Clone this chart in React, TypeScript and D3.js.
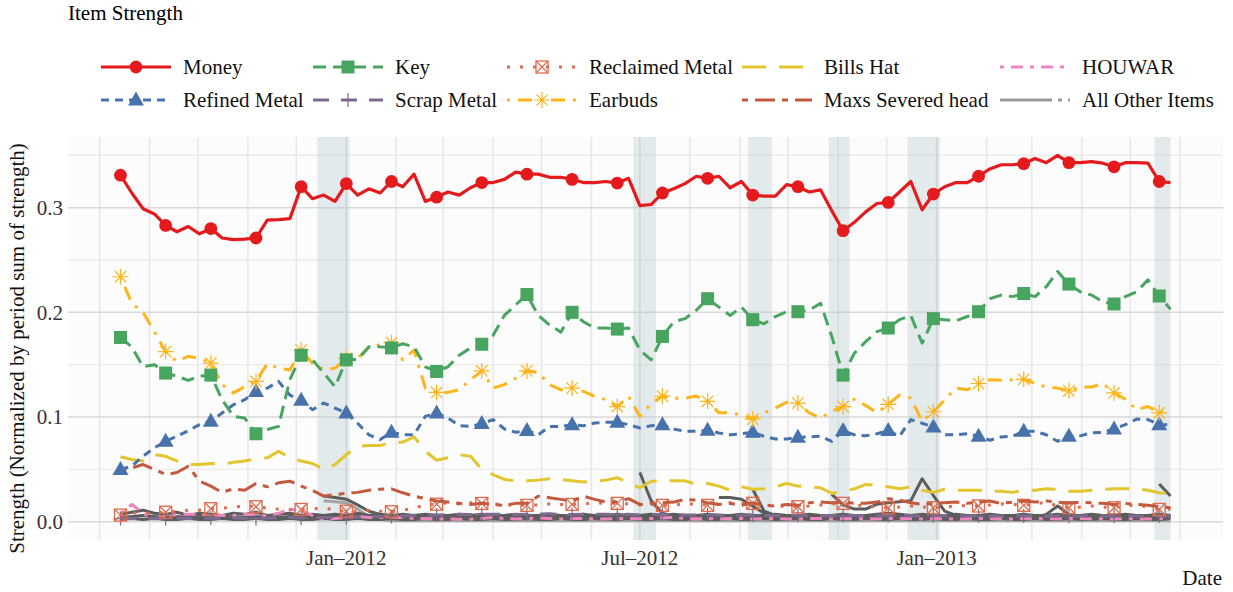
import React from "react";
import * as d3 from "d3";

// weekly observations, first week starts 14 Aug 2011
const START = new Date(2011, 7, 14);

const money = [
  0.331, 0.314, 0.299, 0.294, 0.283, 0.277, 0.282, 0.275, 0.28, 0.271, 0.2695, 0.27, 0.271, 0.288, 0.2886, 0.2895, 0.32, 0.3086, 0.312, 0.306, 0.323, 0.312, 0.318, 0.314, 0.325,
  0.32, 0.332, 0.306, 0.31, 0.315, 0.312, 0.319, 0.324, 0.324, 0.327, 0.334, 0.332, 0.332, 0.329, 0.329, 0.327, 0.324, 0.324, 0.325, 0.3235, 0.328, 0.302, 0.303, 0.314, 0.318, 0.323,
  0.33, 0.328, 0.33, 0.319, 0.325, 0.312, 0.311, 0.311, 0.322, 0.32, 0.315, 0.317, 0.297, 0.278, 0.286, 0.296, 0.304, 0.305, 0.315, 0.325, 0.298, 0.313, 0.32, 0.324, 0.324, 0.33,
  0.337, 0.341, 0.341, 0.342, 0.347, 0.343, 0.35, 0.343, 0.343, 0.344, 0.3425, 0.339, 0.343, 0.343, 0.3425, 0.325, 0.324,
];

const key = [
  0.176, 0.167, 0.148, 0.15, 0.142, 0.139, 0.135, 0.139, 0.14, 0.1165, 0.1006, 0.099, 0.084, 0.088, 0.091, 0.1356, 0.159, 0.1546, 0.142, 0.129, 0.1546, 0.155, 0.167, 0.167, 0.166,
  0.17, 0.167, 0.148, 0.1435, 0.148, 0.159, 0.166, 0.1695, 0.178, 0.197, 0.207, 0.217, 0.197, 0.188, 0.181, 0.2, 0.191, 0.185, 0.185, 0.184, 0.185, 0.164, 0.1546, 0.177, 0.191, 0.194,
  0.202, 0.213, 0.205, 0.197, 0.205, 0.193, 0.189, 0.196, 0.2006, 0.2006, 0.202, 0.2086, 0.177, 0.14, 0.161, 0.172, 0.1816, 0.185, 0.193, 0.197, 0.1705, 0.194, 0.193, 0.192, 0.196, 0.2006,
  0.213, 0.2165, 0.215, 0.218, 0.215, 0.2245, 0.239, 0.227, 0.2197, 0.2165, 0.21, 0.208, 0.215, 0.2197, 0.231, 0.2156, 0.203,
];

const earbuds = [
  0.234, 0.2086, 0.2, 0.1816, 0.1625, 0.153, 0.158, 0.156, 0.1514, 0.131, 0.123, 0.129, 0.134, 0.151, 0.1467, 0.145, 0.164, 0.1514, 0.145, 0.1467, 0.156, 0.156, 0.1667, 0.169, 0.171,
  0.1546, 0.164, 0.1276, 0.1235, 0.1235, 0.126, 0.1356, 0.144, 0.1276, 0.131, 0.137, 0.144, 0.1425, 0.131, 0.126, 0.1276, 0.1244, 0.1197, 0.1165, 0.11, 0.1197, 0.1006, 0.1127, 0.12, 0.118, 0.118,
  0.12, 0.115, 0.104, 0.104, 0.102, 0.098, 0.104, 0.1086, 0.114, 0.1133, 0.104, 0.099, 0.1054, 0.11, 0.117, 0.111, 0.104, 0.112, 0.121, 0.118, 0.096, 0.105, 0.1165, 0.1276, 0.126, 0.132,
  0.1356, 0.135, 0.1356, 0.136, 0.132, 0.1286, 0.1276, 0.125, 0.1286, 0.1286, 0.132, 0.123, 0.117, 0.107, 0.11, 0.104, 0.109,
];

const refinedMetal = [
  0.0498, 0.053, 0.0625, 0.0705, 0.0768, 0.0816, 0.087, 0.0927, 0.0959, 0.1038, 0.1117, 0.1165, 0.1244, 0.1276, 0.134, 0.121, 0.1159, 0.107, 0.1133, 0.1086, 0.1038, 0.094, 0.083, 0.0784, 0.0854,
  0.083, 0.083, 0.1006, 0.1038, 0.099, 0.0917, 0.091, 0.0937, 0.0975, 0.0886, 0.0854, 0.087, 0.083, 0.091, 0.091, 0.0927, 0.0917, 0.0943, 0.095, 0.095, 0.0927, 0.0895, 0.0917, 0.0927, 0.0886, 0.0863,
  0.0863, 0.0873, 0.0848, 0.083, 0.084, 0.0854, 0.0816, 0.079, 0.079, 0.0806, 0.081, 0.0816, 0.0768, 0.087, 0.083, 0.082, 0.084, 0.087, 0.0816, 0.0975, 0.094, 0.0905, 0.083, 0.083, 0.084, 0.0816,
  0.0778, 0.081, 0.0816, 0.0863, 0.0863, 0.083, 0.0768, 0.0816, 0.082, 0.0848, 0.0854, 0.0886, 0.0927, 0.098, 0.0975, 0.0927, 0.0927,
];

const billsHat = [
  0.062, 0.0594, 0.058, 0.064, 0.0625, 0.058, 0.0546, 0.0546, 0.0556, 0.0546, 0.0568, 0.058, 0.06, 0.061, 0.0673, 0.061, 0.058, 0.0556, 0.05, 0.0546, 0.064, 0.072, 0.0727, 0.0727, 0.076,
  0.076, 0.081, 0.0673, 0.0587, 0.061, 0.064, 0.0625, 0.05, 0.045, 0.0403, 0.039, 0.039, 0.0397, 0.041, 0.0403, 0.039, 0.0378, 0.0387, 0.0397, 0.042, 0.0371, 0.0324, 0.0387, 0.039, 0.039, 0.039,
  0.0356, 0.0365, 0.034, 0.03, 0.0333, 0.031, 0.0314, 0.0333, 0.0365, 0.034, 0.0333, 0.0324, 0.027, 0.029, 0.0314, 0.0356, 0.0346, 0.0333, 0.0314, 0.0333, 0.03, 0.028, 0.031, 0.03, 0.03, 0.03,
  0.029, 0.029, 0.028, 0.03, 0.03, 0.0314, 0.031, 0.029, 0.029, 0.03, 0.031, 0.0314, 0.0314, 0.0314, 0.03, 0.0276, 0.027,
];

const maxsHead = [
  0.049, 0.0514, 0.0546, 0.05, 0.045, 0.047, 0.053, 0.0387, 0.034, 0.028, 0.0314, 0.03, 0.0365, 0.0333, 0.0371, 0.0387, 0.034, 0.03, 0.0244, 0.026, 0.027, 0.028, 0.03, 0.031, 0.0314,
  0.0276, 0.0244, 0.022, 0.0197, 0.0187, 0.0175, 0.0165, 0.0175, 0.0165, 0.0156, 0.0175, 0.0175, 0.0244, 0.0229, 0.0213, 0.0197, 0.0244, 0.0213, 0.0187, 0.0187, 0.022, 0.0165, 0.0175, 0.018, 0.0187, 0.0213,
  0.0206, 0.018, 0.0165, 0.0175, 0.0156, 0.018, 0.0156, 0.015, 0.0165, 0.0156, 0.018, 0.0187, 0.018, 0.0187, 0.0175, 0.0175, 0.0187, 0.022, 0.0206, 0.018, 0.0165, 0.0175, 0.018, 0.0187, 0.0175, 0.0187,
  0.0197, 0.0175, 0.0187, 0.0197, 0.0187, 0.0197, 0.0187, 0.0175, 0.0187, 0.018, 0.0175, 0.0165, 0.0175, 0.0165, 0.0156, 0.0143, 0.0133,
];

const reclaimedMetal = [
  0.0063, 0.0086, 0.008, 0.0085, 0.009, 0.01, 0.011, 0.011, 0.0124, 0.013, 0.014, 0.015, 0.0143, 0.013, 0.012, 0.0115, 0.0117, 0.012, 0.0133, 0.011, 0.01, 0.01, 0.011, 0.01, 0.0095,
  0.011, 0.013, 0.016, 0.0167, 0.018, 0.017, 0.018, 0.0174, 0.017, 0.016, 0.016, 0.0156, 0.016, 0.017, 0.0165, 0.0165, 0.017, 0.018, 0.0175, 0.0175, 0.017, 0.016, 0.0165, 0.0156, 0.016, 0.017,
  0.017, 0.0156, 0.017, 0.018, 0.0175, 0.0175, 0.016, 0.015, 0.0145, 0.0143, 0.015, 0.016, 0.017, 0.0175, 0.016, 0.015, 0.014, 0.0133, 0.014, 0.015, 0.014, 0.0133, 0.014, 0.015, 0.0155, 0.015,
  0.016, 0.017, 0.0165, 0.0156, 0.017, 0.0185, 0.015, 0.0133, 0.014, 0.015, 0.014, 0.0133, 0.015, 0.016, 0.014, 0.0117, 0.012,
];

const houwar = [
  0.008, 0.0165, 0.008, 0.0025, 0.005, 0.007, 0.007, 0.007, 0.0065, 0.006, 0.006, 0.007, 0.007, 0.0055, 0.008, 0.012, 0.0103, 0.006, 0.0025, 0.003, 0.004, 0.005, 0.004, 0.004, 0.004,
  0.004, 0.003, 0.003, 0.0025, 0.0025, 0.0024, 0.0024, 0.003, 0.004, 0.003, 0.0025, 0.003, 0.0035, 0.003, 0.0025, 0.003, 0.003, 0.0025, 0.0025, 0.003, 0.003, 0.0028, 0.003, 0.0035, 0.004, 0.003,
  0.0028, 0.003, 0.0025, 0.003, 0.003, 0.0025, 0.0028, 0.003, 0.0025, 0.0025, 0.003, 0.003, 0.0025, 0.003, 0.0028, 0.003, 0.0025, 0.003, 0.003, 0.0028, 0.0025, 0.003, 0.003, 0.0025, 0.003, 0.003,
  0.0028, 0.003, 0.0025, 0.003, 0.003, 0.0028, 0.0025, 0.003, 0.003, 0.0025, 0.003, 0.0025, 0.003, 0.0028, 0.0025, 0.003, 0.003,
];

const scrapMetal = [
  0.003, 0.0032, 0.003, 0.0033, 0.003, 0.0035, 0.003, 0.0032, 0.0034, 0.003, 0.0035, 0.0033, 0.003, 0.0036, 0.0034, 0.004, 0.0035, 0.0038, 0.004, 0.0042, 0.004, 0.0045, 0.0048, 0.005, 0.005,
  0.0055, 0.006, 0.0062, 0.0065, 0.0068, 0.007, 0.0068, 0.007, 0.0072, 0.007, 0.0068, 0.007, 0.0072, 0.0075, 0.007, 0.0068, 0.007, 0.0072, 0.007, 0.0068, 0.007, 0.0065, 0.0068, 0.007, 0.0066, 0.0065,
  0.0064, 0.0066, 0.0063, 0.006, 0.0062, 0.0064, 0.006, 0.0058, 0.006, 0.0062, 0.006, 0.0058, 0.0056, 0.0058, 0.006, 0.0057, 0.0055, 0.0058, 0.006, 0.0057, 0.0055, 0.0056, 0.0058, 0.0055, 0.0054, 0.0056,
  0.0055, 0.0054, 0.0056, 0.0055, 0.0053, 0.0055, 0.0054, 0.0052, 0.0055, 0.0053, 0.0054, 0.0052, 0.0053, 0.0055, 0.0052, 0.0054, 0.0053,
];

// "All Other Items": several grey items, each with the week index it first appears
const otherBandHigh = [
  0.007, 0.009, 0.011, 0.008, 0.007, 0.009, 0.006, 0.008, 0.007, 0.006, 0.008, 0.007, 0.009, 0.006, 0.007, 0.008, 0.006, 0.007, 0.006, 0.007, 0.006, 0.008, 0.006, 0.007, 0.006,
  0.007, 0.006, 0.007, 0.006, 0.006, 0.007, 0.006, 0.007, 0.006, 0.006, 0.007, 0.006, 0.006, 0.007, 0.006, 0.006, 0.007, 0.006, 0.006, 0.007, 0.006, 0.006, 0.007, 0.006, 0.007, 0.006,
  0.006, 0.007, 0.006, 0.006, 0.007, 0.006, 0.006, 0.007, 0.006, 0.006, 0.007, 0.006, 0.006, 0.007, 0.006, 0.006, 0.007, 0.008, 0.007, 0.006, 0.007, 0.006, 0.006, 0.007, 0.006, 0.006,
  0.007, 0.006, 0.006, 0.007, 0.006, 0.006, 0.007, 0.006, 0.006, 0.007, 0.006, 0.006, 0.007, 0.006, 0.006, 0.007, 0.006,
];
const otherBandMid = [
  0.004, 0.005, 0.006, 0.005, 0.004, 0.005, 0.004, 0.005, 0.004, 0.004, 0.005, 0.004, 0.005, 0.004, 0.004, 0.005, 0.004, 0.004, 0.005, 0.004, 0.004, 0.005, 0.004, 0.004, 0.005,
  0.004, 0.004, 0.005, 0.004, 0.004, 0.005, 0.004, 0.004, 0.005, 0.004, 0.004, 0.005, 0.004, 0.004, 0.005, 0.004, 0.004, 0.005, 0.004, 0.004, 0.005, 0.004, 0.004, 0.005, 0.004, 0.004,
  0.005, 0.004, 0.004, 0.005, 0.004, 0.004, 0.005, 0.004, 0.004, 0.005, 0.004, 0.004, 0.005, 0.004, 0.004, 0.005, 0.004, 0.004, 0.005, 0.004, 0.004, 0.005, 0.004, 0.004, 0.005, 0.004,
  0.004, 0.005, 0.004, 0.004, 0.005, 0.004, 0.004, 0.005, 0.004, 0.004, 0.005, 0.004, 0.004, 0.005, 0.004, 0.004, 0.005,
];
const otherBandLow = [
  0.002, 0.003, 0.002, 0.003, 0.002, 0.002, 0.003, 0.002, 0.002, 0.003, 0.002, 0.002, 0.003, 0.002, 0.002, 0.003, 0.002, 0.002, 0.003, 0.002, 0.002, 0.003, 0.002, 0.002, 0.003,
  0.002, 0.002, 0.003, 0.002, 0.002, 0.003, 0.002, 0.002, 0.003, 0.002, 0.002, 0.003, 0.002, 0.002, 0.003, 0.002, 0.002, 0.003, 0.002, 0.002, 0.003, 0.002, 0.002, 0.003, 0.002, 0.002,
  0.003, 0.002, 0.002, 0.003, 0.002, 0.002, 0.003, 0.002, 0.002, 0.003, 0.002, 0.002, 0.003, 0.002, 0.002, 0.003, 0.002, 0.002, 0.003, 0.002, 0.002, 0.003, 0.002, 0.002, 0.003, 0.002,
  0.002, 0.003, 0.002, 0.002, 0.003, 0.002, 0.002, 0.003, 0.002, 0.002, 0.003, 0.002, 0.002, 0.003, 0.002, 0.002, 0.003,
];
const otherLightStart = 18;
const otherLight = [
  0.02, 0.019, 0.018, 0.012, 0.005, 0.002, 0.001, 0.001, 0.0008, 0.001, 0.001, 0.0008, 0.001, 0.001, 0.0008, 0.001, 0.001, 0.0008, 0.001, 0.001, 0.0008, 0.001, 0.001, 0.0008, 0.001,
  0.001, 0.0008, 0.001, 0.001, 0.0008, 0.001, 0.001, 0.0008, 0.001, 0.001, 0.0008, 0.001, 0.001, 0.0008, 0.001, 0.001, 0.0008, 0.001, 0.001, 0.0008, 0.001, 0.001, 0.0008, 0.001, 0.001,
  0.0008, 0.001, 0.001, 0.0008, 0.001, 0.001, 0.0008, 0.001, 0.001, 0.0008, 0.001, 0.001, 0.0008, 0.001, 0.001, 0.0008, 0.001, 0.001, 0.0008, 0.001, 0.001, 0.0008, 0.001, 0.001, 0.0008, 0.001,
];
const otherAStart = 18;
const otherA = [
  0.0245, 0.023, 0.0215, 0.016, 0.01, 0.007, 0.005, 0.004, 0.0045, 0.004, 0.005, 0.0045, 0.004, 0.005, 0.0045, 0.004, 0.005, 0.0045, 0.004, 0.005, 0.0045, 0.004, 0.005, 0.0045, 0.004,
  0.005, 0.0045, 0.004, 0.005, 0.0045, 0.004, 0.005, 0.0045, 0.004, 0.005, 0.0045, 0.004, 0.005, 0.0045, 0.004, 0.005, 0.0045, 0.004, 0.005, 0.0045, 0.004, 0.005, 0.0045, 0.004, 0.005,
  0.0045, 0.004, 0.005, 0.0045, 0.004, 0.005, 0.0045, 0.004, 0.005, 0.0045, 0.004, 0.005, 0.0045, 0.004, 0.007, 0.015, 0.007, 0.005, 0.0045, 0.004, 0.005, 0.0045, 0.004, 0.005, 0.0045, 0.004,
];
const otherBStart = 46;
const otherB = [0.047, 0.02, 0.008, 0.005, 0.004, 0.004];
const otherCStart = 53;
const otherC = [0.023, 0.023, 0.0215, 0.015, 0.008, 0.006, 0.005, 0.005];
const otherDStart = 56;
const otherD = [0.031, 0.01, 0.006, 0.005, 0.005];
const otherEStart = 63;
const otherE = [0.026, 0.016, 0.012, 0.012, 0.0167, 0.018, 0.019, 0.02, 0.041, 0.025, 0.01, 0.006, 0.005, 0.005];
const otherFStart = 92;
const otherF = [0.036, 0.0246];

// highlighted periods
const shadedPeriods = [
  ["2011-12-14", "2012-01-03"],
  ["2012-06-27", "2012-07-11"],
  ["2012-09-06", "2012-09-21"],
  ["2012-10-26", "2012-11-08"],
  ["2012-12-14", "2013-01-03"],
  ["2013-05-16", "2013-05-26"],
];

const yMajor = [0, 0.1, 0.2, 0.3];
const yMinor = [0.05, 0.15, 0.25, 0.35];
const xLabelDates = [new Date(2012, 0, 1), new Date(2012, 6, 1), new Date(2013, 0, 1)];

const FONT = "'Liberation Serif', 'Times New Roman', serif";
const W = 1233;
const H = 592;
const panel = { left: 68, right: 1223, top: 137, bottom: 540 };

const weekDate = (i: number) => d3.timeDay.offset(START, i * 7);

type Shape = "circle" | "square" | "boxx" | "triangle" | "plus" | "asterisk" | null;

function Marker({ shape, x, y, color }: { shape: Shape; x: number; y: number; color: string }) {
  if (shape === "circle") return <circle cx={x} cy={y} r={6.4} fill={color} />;
  if (shape === "square") return <rect x={x - 6.5} y={y - 6.5} width={13} height={13} fill={color} />;
  if (shape === "triangle")
    return <path d={`M${x},${y - 8.5}L${x + 8},${y + 5.5}L${x - 8},${y + 5.5}Z`} fill={color} />;
  if (shape === "boxx")
    return (
      <g stroke={color} strokeWidth={1.3} fill="none">
        <rect x={x - 6} y={y - 6} width={12} height={12} />
        <path d={`M${x - 6},${y - 6}L${x + 6},${y + 6}M${x + 6},${y - 6}L${x - 6},${y + 6}`} />
      </g>
    );
  if (shape === "plus")
    return (
      <path d={`M${x - 7},${y}L${x + 7},${y}M${x},${y - 7}L${x},${y + 7}`} stroke={color} strokeWidth={1.2} />
    );
  if (shape === "asterisk")
    return (
      <path
        d={`M${x - 8},${y}L${x + 8},${y}M${x},${y - 8}L${x},${y + 8}M${x - 5.7},${y - 5.7}L${x + 5.7},${y + 5.7}M${x + 5.7},${y - 5.7}L${x - 5.7},${y + 5.7}`}
        stroke={color}
        strokeWidth={1.2}
      />
    );
  return null;
}

const SERIES = [
  { name: "Money", values: money, color: "#e41a1c", dash: "", shape: "circle" as Shape, width: 3.2 },
  { name: "Key", values: key, color: "#47a560", dash: "13,7", shape: "square" as Shape, width: 3 },
  { name: "Reclaimed Metal", values: reclaimedMetal, color: "#df6a4c", dash: "3,10", shape: "boxx" as Shape, width: 3 },
  { name: "Bills Hat", values: billsHat, color: "#e3c52e", dash: "24,13", shape: null as Shape, width: 3 },
  { name: "HOUWAR", values: houwar, color: "#ef85bf", dash: "4,7,12,7", shape: null as Shape, width: 3 },
  { name: "Refined Metal", values: refinedMetal, color: "#4872ab", dash: "8,6", shape: "triangle" as Shape, width: 3 },
  { name: "Scrap Metal", values: scrapMetal, color: "#7d6a8e", dash: "16,12", shape: "plus" as Shape, width: 3 },
  { name: "Earbuds", values: earbuds, color: "#ffb41a", dash: "3,8,14,8", shape: "asterisk" as Shape, width: 3 },
  { name: "Maxs Severed head", values: maxsHead, color: "#c4593d", dash: "6,7,20,7", shape: null as Shape, width: 3 },
  { name: "All Other Items", values: [] as number[], color: "#9a9a9a", dash: "52,6,4,6", shape: null as Shape, width: 3 },
];

const DRAW_ORDER = ["HOUWAR", "Scrap Metal", "Reclaimed Metal", "Maxs Severed head", "Bills Hat", "Refined Metal", "Earbuds", "Key", "Money"];

const OTHERS = [
  { start: otherLightStart, values: otherLight, color: "#a3a3a3" },
  { start: 0, values: otherBandLow, color: "#5c5c5c" },
  { start: 0, values: otherBandMid, color: "#5c5c5c" },
  { start: 0, values: otherBandHigh, color: "#5c5c5c" },
  { start: otherAStart, values: otherA, color: "#5c5c5c" },
  { start: otherBStart, values: otherB, color: "#5c5c5c" },
  { start: otherCStart, values: otherC, color: "#5c5c5c" },
  { start: otherDStart, values: otherD, color: "#5c5c5c" },
  { start: otherEStart, values: otherE, color: "#5c5c5c" },
  { start: otherFStart, values: otherF, color: "#5c5c5c" },
];

const legendCols = [101, 313, 507, 742, 1000];
const legendRows = [67, 100];

export default function App() {
  const first = weekDate(0);
  const last = weekDate(money.length - 1);
  const span = +last - +first;
  const x = d3
    .scaleTime()
    .domain([new Date(+first - span * 0.05), new Date(+last + span * 0.05)])
    .range([panel.left, panel.right]);
  const y = d3.scaleLinear().domain([-0.0175, 0.3675]).range([panel.bottom, panel.top]);

  const line = (start: number) =>
    d3
      .line<number>()
      .x((_, i) => x(weekDate(start + i)))
      .y((d) => y(d));

  const months = d3.timeMonth.range(x.domain()[0], x.domain()[1]);
  const fmt = d3.timeFormat("%b\u2013%Y");

  const byName = (n: string) => SERIES.find((s) => s.name === n)!;

  return (
    <svg width={W} height={H} style={{ position: "absolute", left: 0, top: 0, background: "#fff" }} fontFamily={FONT}>
      <text x={68} y={20} fontSize={21} fill="#000">
        Item Strength
      </text>

      {/* legend */}
      {SERIES.map((s, k) => {
        const gx = legendCols[k % 5];
        const gy = legendRows[Math.floor(k / 5)];
        return (
          <g key={s.name}>
            <line
              x1={gx}
              x2={gx + 70}
              y1={gy}
              y2={gy}
              stroke={s.color}
              strokeWidth={s.width}
              strokeDasharray={s.dash || undefined}
            />
            <Marker shape={s.shape} x={gx + 35} y={gy} color={s.color} />
            <text x={gx + 82} y={gy} dy="0.35em" fontSize={21} fill="#111">
              {s.name}
            </text>
          </g>
        );
      })}

      {/* panel */}
      <rect
        x={panel.left}
        y={panel.top}
        width={panel.right - panel.left}
        height={panel.bottom - panel.top}
        fill="#fcfcfc"
      />
      {yMinor.map((v) => (
        <line key={"ym" + v} x1={panel.left} x2={panel.right} y1={y(v)} y2={y(v)} stroke="#ececec" strokeWidth={1.4} />
      ))}
      {months.map((m) => (
        <line
          key={"xm" + +m}
          x1={x(m)}
          x2={x(m)}
          y1={panel.top}
          y2={panel.bottom}
          stroke={m.getMonth() % 6 === 0 ? "#d6d6d6" : "#e6e6e6"}
          strokeWidth={1.4}
        />
      ))}
      {yMajor.map((v) => (
        <line key={"yM" + v} x1={panel.left} x2={panel.right} y1={y(v)} y2={y(v)} stroke="#d9d9d9" strokeWidth={1.5} />
      ))}
      {shadedPeriods.map(([a, b]) => {
        const x0 = x(d3.timeParse("%Y-%m-%d")(a)!);
        const x1 = x(d3.timeParse("%Y-%m-%d")(b)!);
        return (
          <rect key={a} x={x0} y={panel.top} width={x1 - x0} height={panel.bottom - panel.top} fill="#b7ccd2" opacity={0.38} />
        );
      })}

      {/* all other items */}
      {OTHERS.map((o, k) => (
        <path key={"o" + k} d={line(o.start)(o.values)!} fill="none" stroke={o.color} strokeWidth={3} strokeLinejoin="round" />
      ))}

      {DRAW_ORDER.map((n) => {
        const s = byName(n);
        return (
          <g key={n}>
            <path
              d={line(0)(s.values)!}
              fill="none"
              stroke={s.color}
              strokeWidth={s.width}
              strokeDasharray={s.dash || undefined}
              strokeLinejoin="round"
            />
            {s.values.map((v, i) =>
              i % 4 === 0 ? <Marker key={i} shape={s.shape} x={x(weekDate(i))} y={y(v)} color={s.color} /> : null
            )}
          </g>
        );
      })}

      {/* axes */}
      {yMajor.map((v) => (
        <text key={"yl" + v} x={63} y={y(v)} dy="0.35em" textAnchor="end" fontSize={21} fill="#333">
          {d3.format(".1f")(v)}
        </text>
      ))}
      {xLabelDates.map((d) => (
        <text key={"xl" + +d} x={x(d)} y={565} textAnchor="middle" fontSize={21} fill="#333">
          {fmt(d)}
        </text>
      ))}
      <text x={1222} y={585} textAnchor="end" fontSize={21} fill="#111">
        Date
      </text>
      <text
        transform={`translate(24,${(panel.top + panel.bottom) / 2 + 10}) rotate(-90)`}
        textAnchor="middle"
        fontSize={21}
        fill="#111"
      >
        Strength (Normalized by period sum of strength)
      </text>
    </svg>
  );
}
